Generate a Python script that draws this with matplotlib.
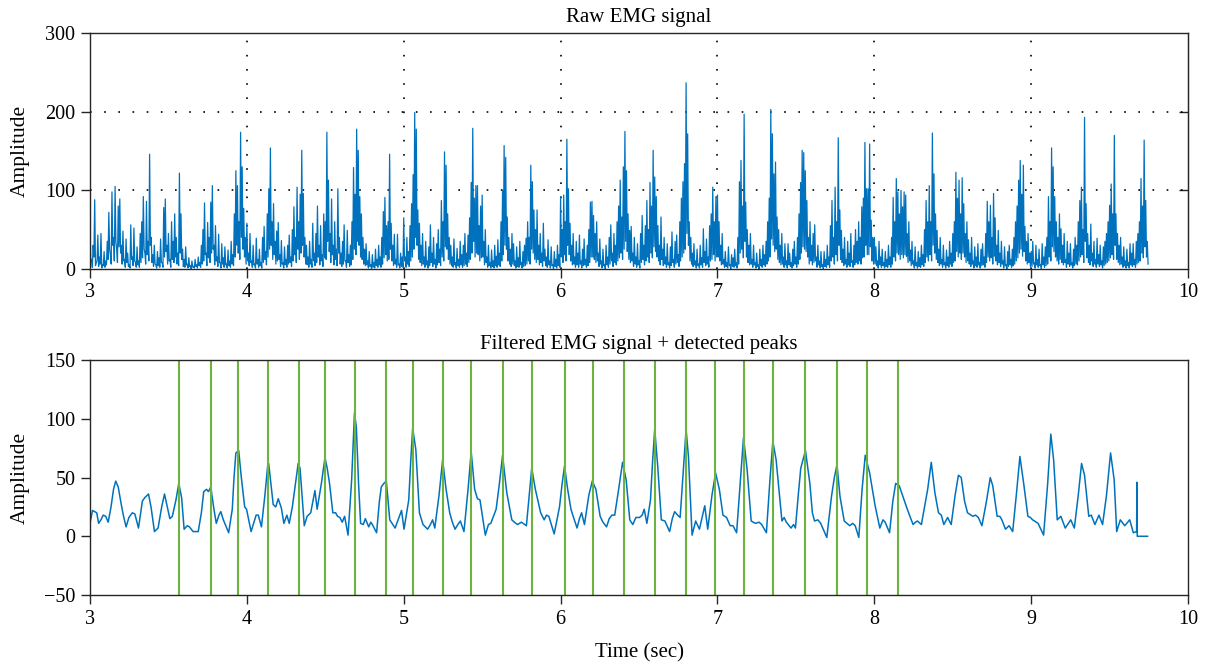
#!/usr/bin/env python3
"""
Raw EMG signal (top) and filtered EMG signal with detected peaks (bottom).
"""

import matplotlib
matplotlib.use("Agg")
import matplotlib.pyplot as plt
import numpy as np

# raw (rectified) EMG. Two readings per 10 ms slot: the crest value at
# t = s + i/100 and the trough value half a slot later, split per second.
raw_start = 3.0
raw_dt = 0.005
crest_3 = [54, 12, 30, 88, 8, 43, 15, 45, 5, 22,
           10, 35, 72, 18, 98, 40, 105, 25, 80, 89,
           30, 48, 12, 38, 20, 5, 56, 15, 52, 8,
           28, 10, 45, 60, 92, 20, 86, 35, 146, 40,
           18, 30, 5, 22, 14, 38, 8, 78, 89, 30,
           45, 12, 60, 35, 70, 40, 20, 122, 70, 25,
           12, 28, 6, 14, 4, 10, 3, 12, 5, 15,
           8, 30, 50, 84, 20, 59, 40, 85, 106, 30,
           55, 15, 44, 8, 32, 14, 28, 6, 24, 10,
           35, 18, 70, 125, 106, 60, 174, 130, 77, 40]
trough_3 = [8, 2, 15, 4, 10, 3, 6, 1, 4, 2,
            5, 12, 25, 6, 30, 10, 35, 8, 28, 20,
            6, 10, 2, 8, 3, 1, 12, 4, 10, 2,
            5, 2, 8, 14, 25, 6, 18, 10, 30, 8,
            3, 6, 1, 4, 2, 8, 2, 15, 22, 6,
            10, 2, 12, 8, 15, 6, 4, 20, 12, 3,
            2, 5, 1, 3, 0, 2, 1, 3, 1, 4,
            2, 6, 10, 18, 4, 14, 8, 20, 25, 5,
            10, 3, 8, 1, 6, 2, 5, 1, 4, 2,
            6, 4, 15, 30, 20, 12, 40, 25, 15, 6]
crest_4 = [58, 20, 45, 10, 30, 6, 39, 12, 25, 8,
           40, 54, 22, 70, 102, 154, 60, 83, 35, 48,
           59, 18, 36, 8, 28, 12, 30, 43, 15, 50,
           79, 40, 104, 60, 95, 151, 96, 40, 30, 15,
           35, 12, 58, 20, 45, 80, 30, 55, 18, 70,
           60, 174, 113, 45, 89, 30, 60, 25, 102, 40,
           20, 35, 56, 10, 49, 18, 30, 60, 129, 95,
           178, 151, 92, 70, 40, 25, 32, 10, 22, 5,
           18, 8, 25, 12, 30, 15, 40, 73, 91, 55,
           60, 146, 58, 30, 44, 12, 44, 6, 20, 15]
trough_4 = [10, 4, 8, 2, 5, 1, 6, 2, 4, 1,
            8, 12, 5, 15, 25, 30, 12, 18, 6, 10,
            12, 3, 6, 1, 5, 2, 6, 8, 3, 10,
            18, 8, 25, 12, 20, 30, 15, 6, 5, 2,
            6, 2, 10, 4, 8, 15, 5, 10, 3, 14,
            12, 35, 22, 8, 18, 5, 12, 4, 20, 6,
            3, 6, 10, 2, 8, 3, 5, 12, 25, 18,
            35, 30, 15, 12, 6, 4, 5, 1, 3, 0,
            2, 1, 4, 2, 5, 2, 6, 14, 18, 10,
            12, 25, 10, 4, 6, 2, 5, 1, 3, 2]
crest_5 = [65, 15, 40, 22, 55, 83, 120, 199, 178, 75,
           58, 30, 45, 15, 35, 10, 28, 56, 20, 40,
           12, 32, 50, 25, 87, 60, 149, 132, 70, 40,
           30, 15, 38, 8, 26, 12, 35, 18, 30, 45,
           20, 43, 65, 110, 179, 90, 106, 106, 55, 80,
           94, 35, 50, 15, 30, 8, 24, 10, 30, 16,
           37, 20, 60, 100, 157, 142, 66, 40, 25, 45,
           32, 10, 28, 14, 35, 8, 22, 30, 39, 60,
           40, 132, 111, 75, 50, 75, 30, 45, 20, 58,
           25, 15, 37, 10, 28, 5, 22, 12, 30, 18]
trough_5 = [10, 2, 6, 3, 10, 15, 25, 40, 30, 12,
            8, 4, 6, 2, 5, 1, 4, 8, 3, 6,
            1, 5, 8, 4, 15, 10, 28, 25, 12, 6,
            4, 2, 5, 1, 4, 2, 5, 2, 4, 6,
            3, 8, 12, 20, 35, 15, 20, 18, 10, 14,
            15, 5, 8, 2, 4, 1, 3, 1, 4, 2,
            5, 3, 10, 18, 30, 25, 10, 6, 3, 6,
            4, 1, 3, 2, 5, 1, 3, 4, 6, 10,
            6, 25, 20, 12, 8, 12, 5, 8, 3, 10,
            4, 2, 5, 1, 4, 0, 3, 1, 4, 2]
crest_6 = [92, 50, 94, 60, 165, 102, 58, 30, 45, 15,
           35, 20, 43, 10, 25, 38, 12, 30, 50, 85,
           86, 68, 45, 60, 20, 38, 10, 25, 5, 30,
           15, 40, 56, 20, 45, 30, 60, 80, 113, 66,
           130, 175, 125, 70, 49, 54, 20, 40, 15, 32,
           10, 45, 68, 30, 55, 87, 50, 110, 80, 151,
           117, 92, 55, 30, 66, 25, 40, 15, 32, 8,
           28, 47, 12, 35, 43, 18, 60, 90, 111, 134,
           237, 172, 60, 40, 20, 32, 10, 25, 6, 30,
           14, 51, 22, 38, 15, 55, 70, 104, 60, 92]
trough_6 = [15, 8, 18, 10, 30, 18, 10, 5, 6, 2,
            5, 2, 6, 1, 4, 5, 2, 4, 8, 15,
            15, 12, 8, 10, 3, 6, 1, 4, 0, 5,
            2, 6, 10, 3, 8, 5, 10, 14, 20, 12,
            25, 35, 22, 12, 8, 10, 3, 6, 2, 5,
            1, 8, 12, 5, 10, 15, 8, 20, 14, 28,
            22, 15, 10, 5, 12, 4, 6, 2, 5, 1,
            4, 8, 2, 6, 8, 3, 10, 15, 20, 25,
            45, 30, 10, 6, 3, 5, 1, 4, 1, 5,
            2, 8, 4, 6, 2, 10, 12, 18, 10, 15]
crest_7 = [94, 60, 30, 45, 12, 22, 8, 28, 5, 18,
           14, 25, 8, 40, 111, 138, 80, 197, 85, 50,
           30, 45, 12, 30, 8, 20, 5, 25, 12, 30,
           18, 35, 60, 90, 203, 172, 121, 136, 66, 50,
           30, 45, 15, 32, 10, 32, 20, 8, 25, 35,
           15, 40, 70, 110, 151, 148, 125, 87, 40, 60,
           30, 45, 56, 15, 30, 10, 22, 5, 22, 12,
           30, 15, 55, 87, 40, 104, 60, 167, 75, 49,
           25, 40, 12, 35, 20, 45, 10, 30, 50, 35,
           60, 40, 79, 90, 161, 102, 102, 159, 62, 40]
trough_7 = [15, 10, 5, 6, 2, 3, 1, 4, 0, 3,
            2, 4, 1, 6, 20, 25, 14, 35, 15, 8,
            5, 6, 2, 5, 1, 3, 0, 4, 2, 5,
            3, 6, 10, 15, 38, 30, 22, 25, 12, 8,
            5, 6, 2, 5, 1, 5, 3, 1, 4, 6,
            2, 6, 12, 20, 28, 25, 22, 15, 6, 10,
            5, 8, 10, 2, 5, 1, 3, 0, 3, 2,
            5, 2, 10, 15, 6, 18, 10, 30, 12, 8,
            4, 6, 2, 5, 3, 8, 2, 5, 8, 6,
            10, 6, 14, 15, 30, 18, 18, 28, 10, 6]
crest_8 = [40, 28, 10, 35, 15, 25, 8, 22, 12, 30,
           15, 40, 91, 60, 115, 98, 70, 100, 79, 98,
           94, 45, 60, 24, 35, 10, 28, 8, 22, 14,
           30, 18, 50, 87, 60, 106, 60, 173, 121, 70,
           49, 25, 40, 12, 30, 8, 24, 15, 35, 20,
           45, 60, 123, 90, 113, 70, 116, 83, 45, 60,
           37, 20, 40, 10, 28, 15, 32, 8, 25, 32,
           15, 45, 86, 60, 81, 40, 96, 65, 30, 49,
           20, 35, 10, 28, 5, 22, 30, 12, 25, 40,
           60, 80, 113, 138, 95, 132, 54, 35, 45, 20]
trough_8 = [6, 4, 1, 5, 2, 4, 1, 3, 2, 5,
            2, 6, 15, 10, 20, 18, 12, 18, 14, 18,
            16, 8, 10, 4, 6, 1, 4, 1, 3, 2,
            5, 3, 8, 15, 10, 18, 10, 30, 20, 12,
            8, 4, 6, 2, 5, 1, 4, 2, 6, 3,
            8, 10, 22, 15, 20, 12, 20, 15, 8, 10,
            6, 3, 6, 1, 4, 2, 5, 1, 4, 5,
            2, 8, 15, 10, 14, 6, 16, 10, 5, 8,
            3, 6, 1, 4, 0, 3, 5, 2, 4, 6,
            10, 14, 20, 25, 16, 22, 10, 6, 8, 3]
crest_9 = [22, 35, 8, 30, 12, 25, 5, 32, 15, 28,
           40, 92, 60, 154, 130, 92, 60, 40, 70, 51,
           30, 45, 12, 35, 20, 32, 8, 25, 40, 30,
           60, 87, 104, 50, 193, 83, 45, 30, 57, 20,
           35, 12, 39, 18, 30, 10, 28, 35, 45, 60,
           81, 108, 70, 170, 70, 45, 30, 40, 15, 28,
           10, 25, 8, 32, 20, 32, 12, 35, 45, 60,
           115, 80, 164, 87, 35]
trough_9 = [3, 6, 1, 5, 2, 4, 0, 5, 2, 4,
            6, 15, 10, 28, 22, 15, 10, 6, 12, 8,
            5, 8, 2, 6, 3, 5, 1, 4, 6, 5,
            10, 15, 18, 8, 35, 14, 8, 5, 10, 3,
            6, 2, 6, 3, 5, 1, 4, 6, 8, 10,
            14, 18, 12, 30, 12, 8, 5, 6, 2, 4,
            1, 4, 1, 5, 3, 5, 2, 6, 8, 10,
            20, 14, 28, 15, 6]

# filtered EMG envelope, (time s, amplitude) read at turning points
filt_points = [
    (3.000, 11), (3.016, 22), (3.043, 20), (3.055, 11), (3.070, 14),
    (3.084, 18), (3.100, 17), (3.116, 12), (3.134, 25), (3.150, 40),
    (3.164, 47), (3.180, 42), (3.198, 28), (3.214, 17), (3.230, 8),
    (3.248, 16), (3.270, 20), (3.286, 19), (3.309, 7), (3.334, 30),
    (3.350, 33), (3.373, 36), (3.389, 25), (3.411, 4), (3.434, 7),
    (3.457, 25), (3.475, 36), (3.493, 25), (3.509, 15), (3.525, 17),
    (3.548, 31), (3.566, 45), (3.584, 33), (3.600, 6), (3.620, 9),
    (3.634, 8), (3.657, 4), (3.690, 4), (3.710, 20), (3.725, 38),
    (3.743, 40), (3.755, 38), (3.770, 42), (3.789, 24), (3.805, 11),
    (3.822, 18), (3.834, 21), (3.850, 14), (3.884, 3), (3.907, 23),
    (3.918, 50), (3.930, 71), (3.948, 73), (3.964, 51), (3.986, 25),
    (3.998, 23), (4.027, 4), (4.045, 12), (4.059, 18), (4.073, 18),
    (4.093, 8), (4.115, 35), (4.134, 62), (4.139, 62), (4.168, 27),
    (4.184, 25), (4.200, 32), (4.220, 24), (4.236, 11), (4.255, 18),
    (4.270, 11), (4.290, 25), (4.305, 40), (4.327, 62), (4.339, 58),
    (4.366, 9), (4.384, 17), (4.407, 20), (4.434, 39), (4.448, 23),
    (4.475, 45), (4.498, 67), (4.512, 58), (4.527, 45), (4.548, 20),
    (4.566, 20), (4.578, 17), (4.593, 16), (4.608, 12), (4.623, 17),
    (4.645, 1), (4.668, 48), (4.686, 105), (4.698, 93), (4.712, 45),
    (4.725, 11), (4.742, 10), (4.755, 15), (4.777, 8), (4.790, 12),
    (4.800, 10), (4.827, 3), (4.845, 30), (4.857, 42), (4.873, 45),
    (4.889, 47), (4.900, 30), (4.911, 14), (4.945, 7), (4.970, 16),
    (4.986, 22), (5.002, 6), (5.032, 31), (5.045, 65), (5.057, 92),
    (5.077, 74), (5.100, 20), (5.123, 10), (5.152, 6), (5.170, 10),
    (5.184, 14), (5.198, 7), (5.225, 35), (5.248, 65), (5.270, 40),
    (5.293, 20), (5.310, 12), (5.327, 6), (5.345, 10), (5.361, 13),
    (5.384, 4), (5.410, 40), (5.430, 72), (5.452, 40), (5.470, 32),
    (5.486, 31), (5.520, 1), (5.540, 10), (5.555, 11), (5.589, 23),
    (5.610, 45), (5.630, 69), (5.657, 37), (5.689, 14), (5.705, 12),
    (5.725, 10), (5.750, 12), (5.782, 9), (5.800, 35), (5.816, 58),
    (5.839, 40), (5.873, 20), (5.895, 14), (5.910, 18), (5.925, 17),
    (5.959, 2), (5.993, 25), (6.010, 45), (6.025, 60), (6.045, 40),
    (6.066, 23), (6.085, 15), (6.105, 7), (6.120, 15), (6.134, 20),
    (6.152, 10), (6.180, 35), (6.202, 47), (6.225, 40), (6.252, 17),
    (6.270, 12), (6.293, 8), (6.310, 15), (6.327, 18), (6.345, 18),
    (6.370, 40), (6.395, 63), (6.418, 48), (6.441, 14), (6.460, 10),
    (6.480, 16), (6.503, 16), (6.520, 18), (6.533, 23), (6.550, 11),
    (6.573, 31), (6.587, 65), (6.600, 91), (6.619, 60), (6.642, 14),
    (6.665, 13), (6.695, 4), (6.712, 15), (6.727, 21), (6.746, 18),
    (6.762, 16), (6.782, 55), (6.800, 91), (6.815, 68), (6.838, 1),
    (6.861, 13), (6.885, 6), (6.905, 18), (6.919, 26), (6.938, 6),
    (6.965, 35), (6.988, 54), (7.012, 40), (7.035, 18), (7.058, 16),
    (7.081, 9), (7.099, 9), (7.122, 3), (7.145, 45), (7.166, 84),
    (7.189, 57), (7.215, 13), (7.242, 11), (7.265, 12), (7.282, 10),
    (7.312, 3), (7.333, 45), (7.353, 81), (7.374, 65), (7.395, 35),
    (7.411, 13), (7.425, 16), (7.439, 12), (7.469, 7), (7.485, 10),
    (7.497, 7), (7.515, 35), (7.531, 58), (7.561, 73), (7.589, 45),
    (7.605, 20), (7.619, 13), (7.640, 14), (7.658, 11), (7.697, -1),
    (7.727, 34), (7.745, 50), (7.762, 61), (7.781, 34), (7.808, 13),
    (7.825, 11), (7.843, 9), (7.862, 11), (7.878, 9), (7.901, -1),
    (7.922, 40), (7.942, 69), (7.970, 54), (8.005, 26), (8.035, 7),
    (8.055, 14), (8.069, 12), (8.097, 3), (8.118, 30), (8.136, 45),
    (8.159, 43), (8.182, 34), (8.205, 25), (8.224, 18), (8.247, 10),
    (8.262, 12), (8.275, 13), (8.300, 10), (8.320, 25), (8.340, 40),
    (8.363, 63), (8.386, 37), (8.409, 20), (8.427, 18), (8.443, 10),
    (8.467, 16), (8.490, 10), (8.515, 35), (8.536, 52), (8.554, 50),
    (8.575, 30), (8.594, 20), (8.628, 17), (8.645, 18), (8.663, 16),
    (8.686, 9), (8.715, 30), (8.739, 50), (8.755, 43), (8.783, 17),
    (8.800, 17), (8.813, 14), (8.836, 6), (8.859, 9), (8.882, 4),
    (8.905, 35), (8.928, 68), (8.952, 45), (8.979, 17), (8.995, 16),
    (9.009, 14), (9.044, 11), (9.079, 1), (9.105, 45), (9.125, 87),
    (9.143, 65), (9.166, 14), (9.189, 17), (9.217, 7), (9.252, 14),
    (9.275, 7), (9.300, 35), (9.321, 62), (9.340, 52), (9.367, 17),
    (9.383, 18), (9.406, 10), (9.432, 18), (9.455, 10), (9.480, 35),
    (9.506, 71), (9.529, 48), (9.545, 4), (9.568, 14), (9.596, 9),
    (9.628, 14), (9.651, 3), (9.672, 4), (9.674, 46), (9.676, 0),
    (9.742, 0),
]

# detected peak times (s)
peak_times = [3.566, 3.770, 3.945, 4.136, 4.330, 4.500, 4.691, 4.889,
              5.061, 5.252, 5.432, 5.634, 5.818, 6.030, 6.207, 6.405,
              6.603, 6.799, 6.984, 7.169, 7.353, 7.561, 7.764, 7.952,
              8.148]

BLUE = "#0072BD"
GREEN = "#6DB33F"
SPINE = "#262626"

plt.rcParams["font.family"] = ["Liberation Serif", "DejaVu Serif"]


def style_axes(ax):
    for sp in ax.spines.values():
        sp.set_color(SPINE)
        sp.set_linewidth(1.0)
        sp.set_zorder(4)
    ax.tick_params(direction="out", length=6.5, width=1.0, color=SPINE,
                   labelsize=14.5, pad=4)
    ax.set_xlim(3, 10)
    ax.set_xticks(range(3, 11))
    ax.yaxis.set_label_coords(-0.0545, 0.5)


crest = np.concatenate([crest_3, crest_4, crest_5, crest_6, crest_7,
                        crest_8, crest_9])
trough = np.concatenate([trough_3, trough_4, trough_5, trough_6, trough_7,
                         trough_8, trough_9])
raw = np.column_stack([crest, trough]).ravel()
t_raw = raw_start + raw_dt * np.arange(len(raw))
filt_t, filt_v = zip(*filt_points)

fig = plt.figure(figsize=(12.08, 6.67), dpi=100)
ax1 = fig.add_axes([0.0745, 0.597, 0.909, 0.353])
ax2 = fig.add_axes([0.0745, 0.108, 0.909, 0.352])

# top: raw signal
ax1.plot(t_raw, raw, color=BLUE, linewidth=0.9)
style_axes(ax1)
ax1.set_ylim(0, 300)
ax1.set_yticks([0, 100, 200, 300])
ax1.grid(True, color="black", linestyle=(0, (1, 7.5)), linewidth=1.2)
ax1.set_axisbelow(True)
for gl in (ax1.get_xgridlines()[0], ax1.get_xgridlines()[-1],
           ax1.get_ygridlines()[0], ax1.get_ygridlines()[-1]):
    gl.set_visible(False)
right = ax1.secondary_yaxis("right")
right.set_yticks([100, 200])
right.tick_params(direction="in", length=6.5, width=1.0, color=SPINE,
                  labelright=False)
right.spines["right"].set_color(SPINE)
ax1.set_title("Raw EMG signal", fontsize=15, pad=8)
ax1.set_ylabel("Amplitude", fontsize=15.5)

# bottom: filtered signal and detected peaks
ax2.plot(filt_t, filt_v, color=BLUE, linewidth=1.1, zorder=2)
ax2.vlines(peak_times, -50, 150, color=GREEN, linewidth=1.5, zorder=3)
style_axes(ax2)
ax2.set_ylim(-50, 150)
ax2.set_yticks([-50, 0, 50, 100, 150])
ax2.set_title("Filtered EMG signal + detected peaks", fontsize=15, pad=8)
ax2.set_ylabel("Amplitude", fontsize=15.5)
ax2.set_xlabel("Time (sec)", fontsize=15)
ax2.xaxis.set_label_coords(0.5, -0.205)

fig.savefig("out.png", dpi=100)
